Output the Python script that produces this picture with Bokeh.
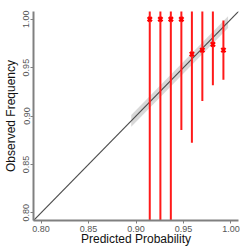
from bokeh.plotting import figure
from bokeh.models import Range1d, FixedTicker, NumeralTickFormatter
from bokeh.embed import file_html
from bokeh.resources import INLINE

# Calibration data
pred = [0.9145, 0.9257, 0.9367, 0.9478, 0.9589, 0.9699, 0.9810, 0.9921]
obs = [1.000, 1.000, 1.000, 1.000, 0.964, 0.968, 0.974, 0.968]
ci_lo = [0.700, 0.720, 0.740, 0.8855, 0.8723, 0.9156, 0.9319, 0.9374]
ci_hi = [1.020, 1.020, 1.020, 1.020, 1.020, 1.020, 1.020, 0.9987]

diag = [0.78, 1.02]
band_x = [0.895, 0.997]
band_lo = [0.889, 0.991]
band_hi = [0.901, 1.003]
ticks = [0.80, 0.85, 0.90, 0.95, 1.00]

x_title = "Predicted Probability"
y_title = "Observed Frequency"

p = figure(width=249, height=249, output_backend="svg", toolbar_location=None,
           x_range=Range1d(0.792, 1.008), y_range=Range1d(0.792, 1.008),
           min_border_left=30, min_border_right=11, min_border_top=11,
           min_border_bottom=29)
p.outline_line_color = None
p.grid.visible = False
p.background_fill_color = "white"
p.border_fill_color = "white"

p.varea(x=band_x, y1=band_lo, y2=band_hi, color="#d4d4d4", alpha=0.9)
p.line(diag, diag, color="#4d4d4d", line_width=1.2)
p.segment(x0=pred, y0=ci_lo, x1=pred, y1=ci_hi, color="#ff1a1a", line_width=2)
p.scatter(pred, obs, marker="x", size=6, color="#ff0000", line_width=2.2)

for ax in (p.xaxis[0], p.yaxis[0]):
    ax.ticker = FixedTicker(ticks=ticks)
    ax.formatter = NumeralTickFormatter(format="0.00")
    ax.minor_tick_line_color = None
    ax.major_tick_in = 0
    ax.major_tick_out = 3
    ax.major_tick_line_color = "#808080"
    ax.axis_line_color = "#808080"
    ax.axis_line_width = 2
    ax.major_label_text_font = "Liberation Sans"
    ax.major_label_text_font_size = "9px"
    ax.major_label_text_color = "#555555"
    ax.axis_label_text_font = "Liberation Sans"
    ax.axis_label_text_font_size = "12px"
    ax.axis_label_text_font_style = "normal"
    ax.axis_label_text_color = "#111111"

p.xaxis.axis_label = x_title
p.yaxis.axis_label = y_title
p.xaxis.major_label_standoff = 2
p.yaxis.major_label_standoff = 1
p.xaxis.axis_label_standoff = -3
p.yaxis.axis_label_standoff = 3
p.yaxis.major_label_orientation = "vertical"

open("out.html", "w").write(file_html(p, INLINE))
